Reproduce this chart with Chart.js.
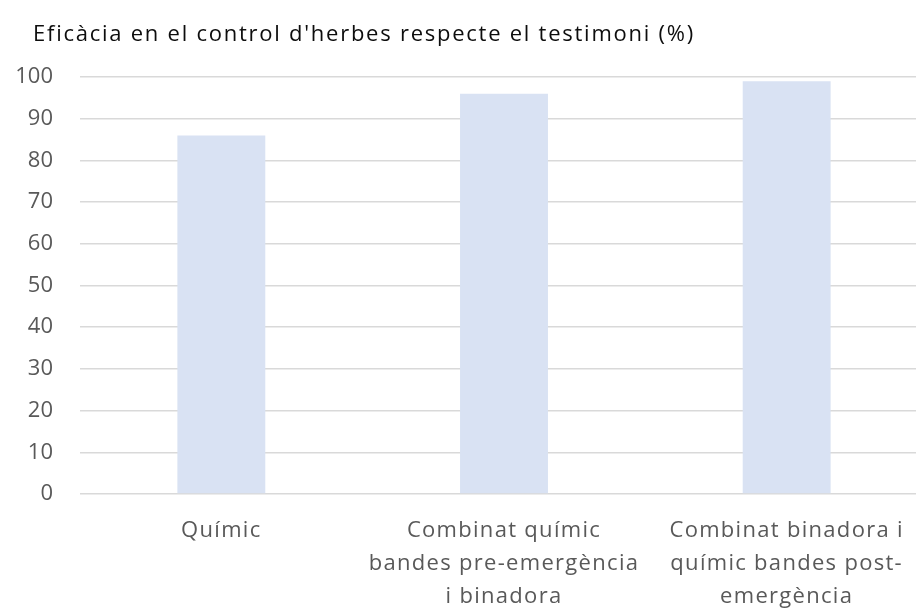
<!DOCTYPE html>
<html>
<head>
<meta charset="utf-8">
<script src="https://cdn.jsdelivr.net/npm/chart.js@4.4.1/dist/chart.umd.min.js"></script>
<style>
  html, body { margin: 0; padding: 0; background: #ffffff; overflow: hidden; width: 916px; height: 608px; }
  #wrap { position: relative; width: 928px; height: 608px; }
</style>
</head>
<body>
<div id="wrap"><canvas id="c" width="928" height="608"></canvas></div>
<script>
const titleText = "Eficàcia en el control d'herbes respecte el testimoni (%)";
const categories = [
  ["Químic"],
  ["Combinat químic", "bandes pre-emergència", "i binadora"],
  ["Combinat binadora i", "químic bandes post-", "emergència"]
];
const values = [86, 96, 99];
const yMin = 0, yMax = 100, yStep = 10;

// Draws the chart title (left-aligned, letter-spaced) and spaces out x labels
const titlePlugin = {
  id: 'leftTitle',
  afterLayout(chart) {
    const s = chart.scales.x;
    if (!s._spacedPatch) {
      const orig = s.drawLabels;
      s.drawLabels = function (area) {
        const c = chart.ctx;
        c.save();
        c.letterSpacing = '1.3px';
        orig.call(this, area);
        c.restore();
      };
      s._spacedPatch = true;
    }
  },
  afterDraw(chart) {
    const c = chart.ctx;
    c.save();
    c.font = '22px "Open Sans"';
    c.letterSpacing = '1.75px';
    c.fillStyle = '#0d0d0d';
    c.textAlign = 'left';
    c.textBaseline = 'alphabetic';
    c.fillText(titleText, 33, 41);
    c.restore();
  }
};

const ctx = document.getElementById('c').getContext('2d');
new Chart(ctx, {
  type: 'bar',
  data: {
    labels: categories,
    datasets: [{
      data: values,
      backgroundColor: '#D9E2F3',
      borderWidth: 0,
      categoryPercentage: 1.0,
      barPercentage: 0.311
    }]
  },
  options: {
    responsive: false,
    animation: false,
    layout: { padding: { left: 0, right: 0, top: 77, bottom: 0 } },
    plugins: {
      legend: { display: false },
      tooltip: { enabled: false },
      title: { display: false }
    },
    scales: {
      x: {
        grid: { display: false, drawTicks: false },
        border: { display: false },
        ticks: {
          color: '#595959',
          font: { family: 'Open Sans', size: 22, lineHeight: 1.5 },
          padding: 20,
          maxRotation: 0,
          autoSkip: false
        },
        afterFit: (s) => { s.height = 114; }
      },
      y: {
        min: yMin, max: yMax,
        grid: { color: '#D9D9D9', lineWidth: 1.5, drawTicks: false },
        border: { display: false },
        ticks: {
          stepSize: yStep,
          color: '#595959',
          font: { family: 'Open Sans', size: 22 },
          padding: 27
        },
        afterFit: (s) => { s.width = 80; }
      }
    }
  },
  plugins: [titlePlugin]
});
</script>
</body>
</html>
